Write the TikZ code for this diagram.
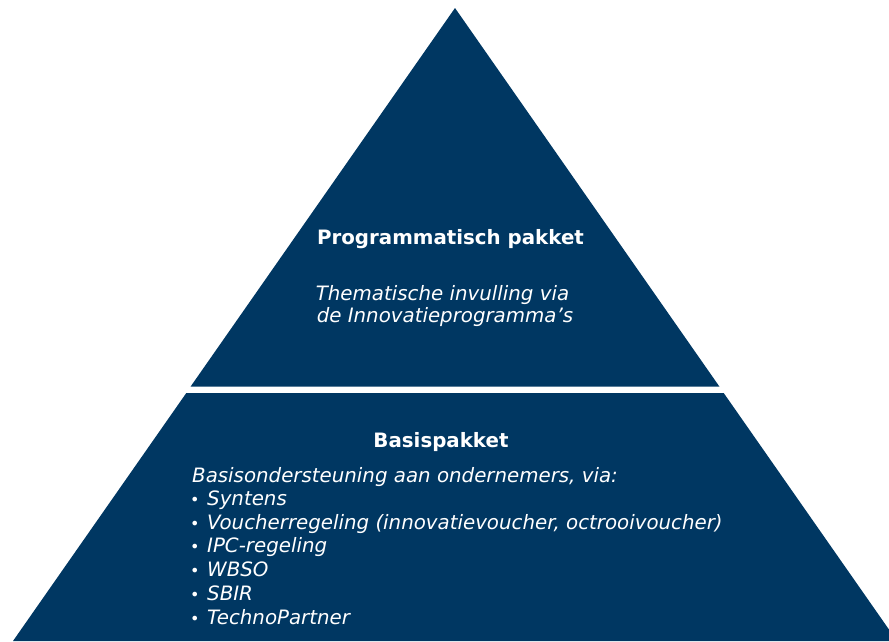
\documentclass[tikz,border=0pt]{standalone}
\usepackage{fontspec}
\setmainfont{DejaVu Sans}
\definecolor{navy}{RGB}{0,55,98}
\newcommand{\bul}{\makebox[17pt][l]{\upshape\fontsize{16}{20}\selectfont•}}
\begin{document}
\begin{tikzpicture}[x=1pt,y=-1pt,
  txt/.style={text=white,inner sep=0pt,font=\fontsize{19.8}{23}\selectfont},
  head/.style={txt,font=\fontsize{19.8}{23}\selectfont\bfseries,anchor=base},
  ctr/.style={txt,font=\fontsize{19.8}{23}\selectfont\itshape,anchor=base},
  body/.style={txt,font=\fontsize{19.8}{23}\selectfont\itshape,anchor=base west}]
\useasboundingbox (0,0) rectangle (889,641);
\clip (0,0) rectangle (889,641);
\fill[navy] (455,8) -- (190.5,386.7) -- (719.5,386.7) -- cycle;
\fill[navy] (186.3,393) -- (723.7,393) -- (897,641) -- (13,641) -- cycle;
\node[head] (t1) at (450.5,244) {Programmatisch pakket};
\node[ctr] (t2) at (442.5,300) {Thematische invulling via};
\node[ctr] (t3) at (445,322.5) {de Innovatieprogramma’s};
\node[head] (b1) at (441,447) {Basispakket};
\node[body] (b2) at (192,482) {Basisondersteuning aan ondernemers, via:};
\node[body] (b3) at (190,505.5) {\bul Syntens};
\node[body] (b4) at (190,529) {\bul Voucherregeling (innovatievoucher, octrooivoucher)};
\node[body] (b5) at (190,552.5) {\bul IPC-regeling};
\node[body] (b6) at (190,576) {\bul WBSO};
\node[body] (b7) at (190,600) {\bul SBIR};
\node[body] (b8) at (190,624) {\bul TechnoPartner};
\end{tikzpicture}
\end{document}
